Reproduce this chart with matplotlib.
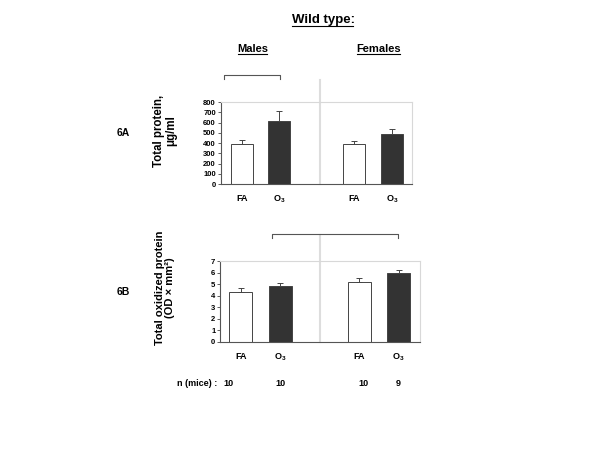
import numpy as np
import matplotlib
matplotlib.use("Agg")
import matplotlib.pyplot as plt
from matplotlib.lines import Line2D
from matplotlib.transforms import blended_transform_factory

plt.rcParams['font.family'] = ['Liberation Sans', 'DejaVu Sans']
plt.rcParams['font.weight'] = 'bold'
plt.rcParams['mathtext.fontset'] = 'custom'
plt.rcParams['mathtext.rm'] = 'Liberation Sans:bold'
plt.rcParams['mathtext.bf'] = 'Liberation Sans:bold'

# data
groups = ["FA", r"O$_3$", "FA", r"O$_3$"]
positions = [0, 1, 3, 4]
bar_colors = ["white", "#333333", "white", "#333333"]
protein = [390, 620, 390, 485]
protein_err = [40, 90, 30, 50]
oxidized = [4.35, 4.8, 5.2, 6.0]
oxidized_err = [0.3, 0.3, 0.35, 0.2]
n_mice = [10, 10, 10, 9]

fig = plt.figure(figsize=(6, 4.5), dpi=100)
ax_a = fig.add_axes([0.368, 0.591, 0.318, 0.182])
ax_b = fig.add_axes([0.367, 0.240, 0.333, 0.180])


def style_axes(ax, ymax, step):
    ax.set_ylim(0, ymax)
    ax.set_yticks(np.arange(0, ymax + step / 2, step))
    ax.tick_params(axis='y', labelsize=5.5, length=2, width=0.6, pad=1.5, color='#444444')
    ax.tick_params(axis='x', length=0, labelsize=6.5, pad=7)
    for s in ['left', 'bottom']:
        ax.spines[s].set_color('#555555')
        ax.spines[s].set_linewidth(0.8)
    for s in ['top', 'right']:
        ax.spines[s].set_color('#d8d8d8')
        ax.spines[s].set_linewidth(0.8)
    ax.set_xticks(positions)
    ax.set_xticklabels(groups)


def bracket(ax, x0, x1):
    tr = ax.get_xaxis_transform()
    ax.add_line(Line2D([x0, x0, x1, x1], [1.28, 1.33, 1.33, 1.28], transform=tr,
                       color='#555555', lw=0.8, clip_on=False))


# 6A
ax_a.bar(positions, protein, width=0.59, color=bar_colors, edgecolor='#444444', linewidth=0.7,
         yerr=[np.zeros(4), protein_err], error_kw=dict(ecolor='#444444', elinewidth=0.7, capsize=2, capthick=0.7))
ax_a.set_xlim(-0.56, 4.53)
style_axes(ax_a, 800, 100)
ax_a.axvline(2.08, ymin=0, ymax=1.27, clip_on=False, color='#dddddd', lw=1.5)
bracket(ax_a, -0.48, 1.01)

# 6B
ax_b.bar(positions, oxidized, width=0.58, color=bar_colors, edgecolor='#444444', linewidth=0.7,
         yerr=[np.zeros(4), oxidized_err], error_kw=dict(ecolor='#444444', elinewidth=0.7, capsize=2, capthick=0.7))
ax_b.set_xlim(-0.52, 4.54)
style_axes(ax_b, 7, 1)
ax_b.axvline(2.01, ymin=0, ymax=1.32, clip_on=False, color='#dddddd', lw=1.5)
bracket(ax_b, 0.8, 3.99)

# n (mice) row
n_tr = blended_transform_factory(ax_b.transData, fig.transFigure)
n_shift = [-0.3, 0, 0.1, 0]
for p, n, d in zip(positions, n_mice, n_shift):
    ax_b.text(p + d, 1 - 383 / 450, str(n), ha='center', va='center', fontsize=6.5,
              transform=n_tr, clip_on=False)
fig.text(197 / 600, 1 - 383 / 450, "n (mice) :", ha='center', va='center', fontsize=6.5)

# panel labels / y labels
fig.text(123 / 600, 1 - 133 / 450, "6A", ha='center', va='center', fontsize=7.5)
fig.text(123 / 600, 1 - 292 / 450, "6B", ha='center', va='center', fontsize=7.5)
fig.text(165 / 600, 1 - 131 / 450, "Total protein,\nμg/ml", ha='center', va='center',
         rotation=90, fontsize=8.3, linespacing=1.1)
fig.text(165 / 600, 1 - 288 / 450, "Total oxidized protein\n(OD × mm²)", ha='center', va='center',
         rotation=90, fontsize=8, linespacing=1.1)

# underlined headers
headers = [
    ("Wild type:", 323, 20, 9.5),
    ("Males", 253, 49, 8),
    ("Females", 379, 49, 8),
]
htexts = [fig.text(x / 600, 1 - y / 450, t, ha='center', va='center', fontsize=s) for t, x, y, s in headers]
fig.canvas.draw()
renderer = fig.canvas.get_renderer()
for t in htexts:
    bb = t.get_window_extent(renderer).transformed(fig.transFigure.inverted())
    fig.add_artist(Line2D([bb.x0 + 0.001, bb.x1 - 0.003], [bb.y0 + 0.001, bb.y0 + 0.001],
                          transform=fig.transFigure, color='black', lw=0.8))

fig.savefig("out.png", dpi=100, facecolor='white')
